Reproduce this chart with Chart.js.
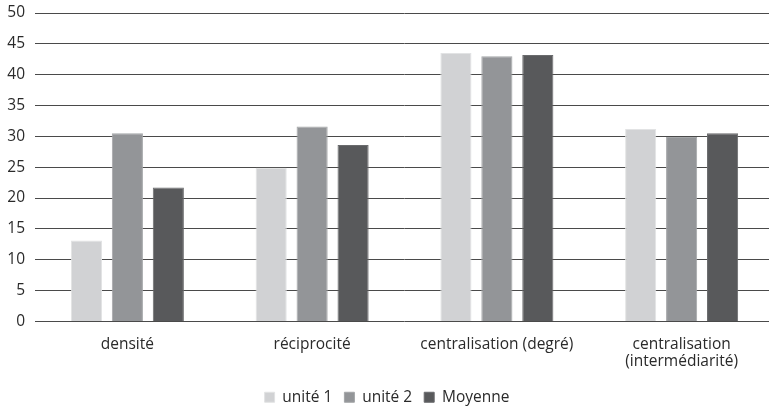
<!DOCTYPE html>
<html>
<head>
<meta charset="utf-8">
<script src="https://cdn.jsdelivr.net/npm/chart.js@4/dist/chart.umd.min.js"></script>
<style>
  html, body { margin: 0; padding: 0; background: #fff; overflow: hidden; }
  #wrap { width: 774px; height: 410px; position: relative; }
</style>
</head>
<body>
<div id="wrap"><canvas id="c"></canvas></div>
<script>
const categories = ['densité', 'réciprocité', 'centralisation (degré)', ['centralisation', '(intermédiarité)']];
const seriesNames = ['unité 1', 'unité 2', 'Moyenne'];
const unite1 = [13.1, 24.9, 43.5, 31.2];
const unite2 = [30.5, 31.6, 43.0, 29.9];
const moyenne = [21.7, 28.6, 43.2, 30.5];
const yTicks = [0, 5, 10, 15, 20, 25, 30, 35, 40, 45, 50];

const colors = ['#d1d2d4', '#939598', '#58595b'];
const borders = ['#e2e3e4', '#a4a6a8', '#6a6b6d'];
const FONT = "'Open Sans', sans-serif";

new Chart(document.getElementById('c'), {
  type: 'bar',
  data: {
    labels: categories,
    datasets: [unite1, unite2, moyenne].map((d, i) => ({
      label: seriesNames[i],
      data: d,
      backgroundColor: colors[i],
      borderColor: borders[i],
      borderWidth: 1,
      barPercentage: 0.76,
      categoryPercentage: 0.665
    }))
  },
  options: {
    responsive: true,
    maintainAspectRatio: false,
    animation: false,
    layout: { padding: { top: 0, left: 0, right: 0, bottom: -5 } },
    plugins: {
      legend: {
        position: 'bottom',
        labels: {
          boxWidth: 10,
          boxHeight: 10,
          padding: 12,
          color: '#2a2a2a',
          font: { family: FONT, size: 15.5 }
        }
      },
      tooltip: { enabled: false }
    },
    scales: {
      x: {
        afterFit: (s) => { s.height -= 8; },
        grid: { display: false, drawTicks: false },
        border: { display: false },
        ticks: {
          color: '#2a2a2a',
          font: { family: FONT, size: 15.5, lineHeight: 1.1 },
          padding: 15,
          maxRotation: 0,
          autoSkip: false
        }
      },
      y: {
        min: 0,
        max: 50,
        afterFit: (s) => { s.width = 35; s.paddingTop = 13; },
        afterBuildTicks: (s) => { s.ticks = yTicks.map(v => ({ value: v })); },
        grid: { color: '#4a4a4a', lineWidth: 1, drawTicks: false },
        border: { display: false },
        ticks: {
          color: '#2a2a2a',
          font: { family: FONT, size: 15.5 },
          padding: 10
        }
      }
    }
  }
});
</script>
</body>
</html>
